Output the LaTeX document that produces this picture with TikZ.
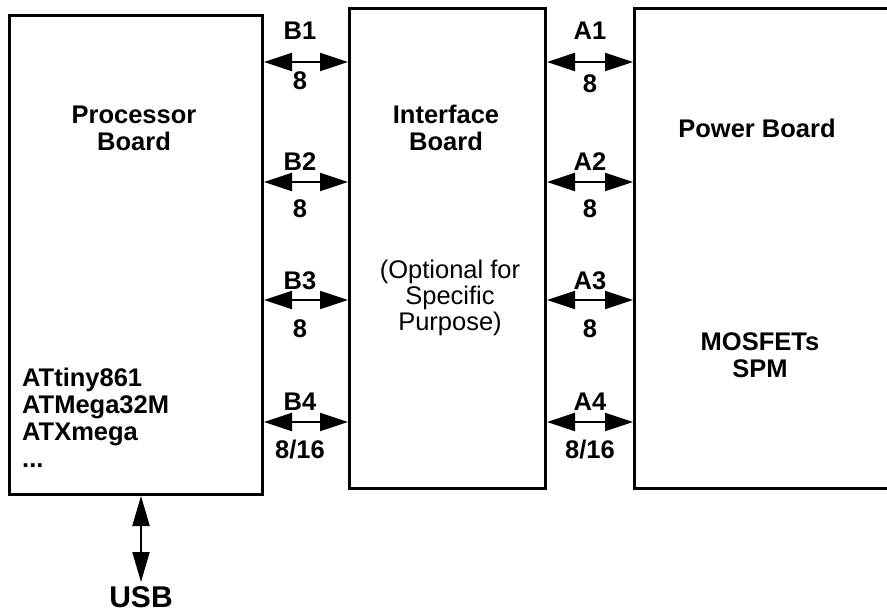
\documentclass[tikz,border=0pt]{standalone}
\usepackage{fontspec}
\setmainfont{Liberation Sans}
\usetikzlibrary{arrows.meta}
\begin{document}
\begin{tikzpicture}[x=1pt,y=-1pt,
  box/.style={draw,line width=3pt,rectangle,inner sep=0pt,anchor=north west},
  bi/.style={line width=2pt,{Triangle[length=28pt,width=18pt]}-{Triangle[length=28pt,width=18pt]}},
  lbl/.style={font=\bfseries\fontsize{25.5}{27}\selectfont,align=center,inner sep=0pt},
  txt/.style={font=\fontsize{25.5}{26}\selectfont,align=center,inner sep=0pt}]
\useasboundingbox (0,0) rectangle (887,612);
\clip (0,0) rectangle (887,612);
\node[box,minimum width=253pt,minimum height=479pt] (proc) at (8,14) {};
\node[box,minimum width=196pt,minimum height=480pt] (intf) at (348,7) {};
\node[box,minimum width=300pt,minimum height=480pt] (pow) at (633,7) {};

\node[lbl] (proct) at (134,128) {Processor\\Board};
\node[lbl] (intft) at (446,128) {Interface\\Board};
\node[lbl] (powt) at (757,128) {Power Board};
\node[txt] (opt) at (450,298) {(Optional for\\Specific\\Purpose)};
\node[lbl] (mos) at (760,355) {MOSFETs\\SPM};
\node[lbl,align=left,anchor=west] (chips) at (22,418) {ATtiny861\\ATMega32M\\ATXmega\\...};

\coordinate (y1) at (0,62);
\coordinate (y2) at (0,182);
\coordinate (y3) at (0,300);
\coordinate (y4) at (0,422);

\foreach \i in {1,2,3,4}{
  \draw[bi] (proc.east |- y\i) -- (intf.west |- y\i);
  \draw[bi] (intf.east |- y\i) -- (pow.west |- y\i);
}
\node[lbl] (lb1) at (300,31) {B1};
\node[lbl] (nb1) at (300,81) {8};
\node[lbl] (lb2) at (300,162) {B2};
\node[lbl] (nb2) at (300,209) {8};
\node[lbl] (lb3) at (300,281) {B3};
\node[lbl] (nb3) at (300,329) {8};
\node[lbl] (lb4) at (300,402) {B4};
\node[lbl] (nb4) at (300,450) {8/16};
\node[lbl] (la1) at (590,31) {A1};
\node[lbl] (na1) at (590,84) {8};
\node[lbl] (la2) at (590,162) {A2};
\node[lbl] (na2) at (590,209) {8};
\node[lbl] (la3) at (590,281) {A3};
\node[lbl] (na3) at (590,329) {8};
\node[lbl] (la4) at (590,402) {A4};
\node[lbl] (na4) at (590,450) {8/16};

\node[font=\bfseries\fontsize{30}{32}\selectfont,inner sep=0pt,anchor=north] (usb) at (141,586) {USB};
\coordinate (usbtip) at (141,582);
\draw[line width=2pt,{Triangle[length=30pt,width=17pt]}-{Triangle[length=30pt,width=17pt]}] (usbtip |- proc.south) -- (usbtip);
\end{tikzpicture}
\end{document}
